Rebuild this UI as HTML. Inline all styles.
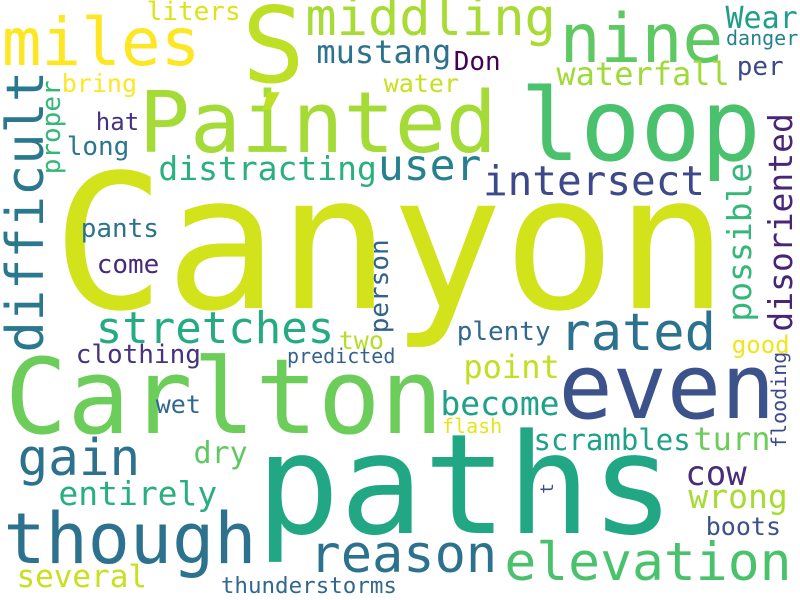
<!DOCTYPE html>
<html><head><meta charset="utf-8"><style>
html,body{margin:0;padding:0;background:#fff;}
svg{display:block;}
text{font-family:"DejaVu Sans Mono","Liberation Mono",monospace;}
</style></head><body>
<svg id="cloud" width="800" height="600" viewBox="0 0 800 600" xmlns="http://www.w3.org/2000/svg">
<rect width="800" height="600" fill="#ffffff"/>
</svg>
<script>
const words = ["Canyon","paths","Painted","loop","Ș","Carlton","even","though","miles","middling","nine","difficult","user","intersect","distracting","stretches","rated","gain","reason","elevation","entirely","several","thunderstorms","mustang","waterfall","Wear","danger","per","disoriented","possible","liters","Don","bring","water","proper","hat","long","pants","come","person","two","plenty","clothing","predicted","point","become","good","flooding","wet","dry","flash","scrambles","turn","t","cow","wrong","boots"];
const sizes = [187,139,85,100,105,104,90,70,66,52,68,52,43,41,33,44,52,51,52,53,33,31,22.5,32,32,30,20,26,33,33,26,26,25,25,26,24,26,26,26,26,25,26,26,20,32,33,24,20,25,30,20,29,32,18,34,33,25];
const colors = ["#d2e21b","#22a785","#a5db36","#4ac16d","#bddf26","#6ccd5a","#3b528b","#2c728e","#fde725","#a8db34","#5ec962","#2a788e","#26818e","#3e4989","#2ab07f","#25ab82","#2c728e","#2c728e","#2c728e","#4ac16d","#29af7f","#c8e020","#31688e","#2c728e","#a0da39","#1f9e89","#26828e","#3e4989","#482677","#35b779","#dce319","#440154","#fde725","#c8e020","#35b779","#46327e","#2a788e","#2c728e","#482878","#33638d","#b5de2b","#31688e","#46327e","#33638d","#c2df23","#1fa088","#f1e51d","#3e4989","#31688e","#5ec962","#e7e419","#1fa088","#6ccd5a","#3e4989","#472d7b","#a8db34","#3b528b"];
// x = glyph left edge (or baseline x if vertical), y = baseline (or bottom start if vertical)
const posX = [62,263,143,525,247,10,563,7,5,308,563,43,380,485,160,98,562,20,312,507,60,18,222,318,558,727,727,738,792,751,148,455,63,385,60,97,68,82,98,388,340,458,77,288,465,442,733,786,157,195,443,535,695,553,687,690,707];
const posY = [308,533,152,160,82,433,418,563,65,35,62,350,180,195,180,343,350,475,572,580,505,587,593,63,85,28,45,75,330,320,20,70,92,92,173,130,155,237,273,332,349,340,363,363,378,415,353,447,413,463,433,450,450,493,485,508,535];
const vertical = [0,0,0,0,0,0,0,0,0,0,0,1,0,0,0,0,0,0,0,0,0,0,0,0,0,0,0,0,1,1,0,0,0,0,1,0,0,0,0,1,0,0,0,0,0,0,0,1,0,0,0,0,0,1,0,0,0];

const svg = document.getElementById('cloud');
const NS = 'http://www.w3.org/2000/svg';
for (let i = 0; i < words.length; i++) {
  const t = document.createElementNS(NS, 'text');
  const fs = sizes[i];
  const bear = 0.05 * fs;
  if (vertical[i]) {
    t.setAttribute('transform', 'translate(' + posX[i] + ',' + (posY[i] + bear) + ') rotate(-90)');
    t.setAttribute('x', 0);
    t.setAttribute('y', 0);
  } else {
    t.setAttribute('x', posX[i] - bear);
    t.setAttribute('y', posY[i]);
  }
  t.setAttribute('font-size', fs);
  t.setAttribute('fill', colors[i]);
  t.textContent = words[i];
  
  
  svg.appendChild(t);
}
</script>
</body></html>
